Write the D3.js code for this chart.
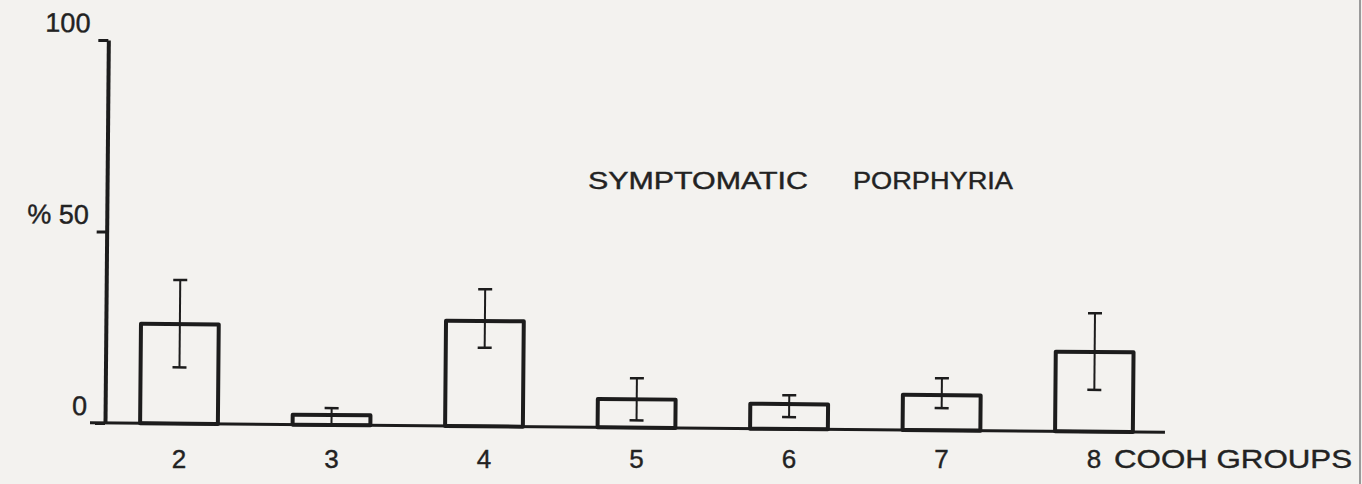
<!DOCTYPE html>
<meta charset="utf-8">
<style>
body {
    margin: 0;
    background-color: #f3f2ef;
}

svg {
    display: block;
    font-family: "Liberation Sans", "DejaVu Sans", sans-serif;
}

.bar {
    fill: none;
    stroke: #1c1c1c;
    stroke-width: 4;
    stroke-linejoin: round;
}

.err {
    stroke: #1c1c1c;
    stroke-width: 2;
}

.label {
    fill: #222;
    font-size: 26px;
    stroke: #222;
    stroke-width: 0.4px;
}
</style>
<body>
  <script src="https://d3js.org/d3.v7.min.js"></script>
  <script>
    var width = 1362,
        height = 484;

    // COOH groups, % with symptomatic porphyria, and error bar ends
    var groups = ["2", "3", "4", "5", "6", "7", "8"];
    var means = [26, 2.6, 27.5, 7.4, 6.5, 9.2, 20.8];
    var errLow = [14.7, 0, 20.5, 1.9, 3.1, 5.8, 10.9];
    var errHigh = [37.5, 4.4, 35.8, 12.9, 8.8, 13.6, 30.9];
    var yTicks = [0, 50, 100];
    var yTickLabels = ["0", "% 50", "100"];

    var data = groups.map(function(g, i) {
        return {group: g, mean: means[i], lo: errLow[i], hi: errHigh[i]};
    });

    var x = d3.scalePoint()
        .domain(groups)
        .range([179, 1094]);
    var y = d3.scaleLinear()
        .domain([0, 100])
        .range([423, 40]);
    var barWidth = x.step() * 0.51;

    var svg = d3.select("body").append("svg")
        .attr("width", width)
        .attr("height", height);

    svg.append("rect")
        .attr("width", width)
        .attr("height", height)
        .attr("fill", "#f3f2ef");

    // the scanned figure sits a little askew
    var g = svg.append("g")
        .attr("transform", "rotate(0.5, 105, 423)");

    var yAxis = g.append("g")
        .attr("transform", "translate(105,0)")
        .call(d3.axisLeft(y)
            .tickValues(yTicks)
            .tickSize(10)
            .tickSizeOuter(0)
            .tickPadding(8)
            .tickFormat(function(d, i) { return yTickLabels[i]; }));
    yAxis.select(".domain")
        .attr("stroke", "#1c1c1c")
        .attr("stroke-width", 4);
    yAxis.selectAll(".tick line")
        .attr("stroke", "#1c1c1c")
        .attr("stroke-width", 3);
    yAxis.selectAll(".tick text")
        .attr("class", "label")
        .attr("dy", "-0.3em")
        .style("font-size", "27px")
        .style("font-family", "'Liberation Sans', sans-serif");

    // baseline
    g.append("line")
        .attr("x1", 90)
        .attr("x2", 1165)
        .attr("y1", y(0))
        .attr("y2", y(0))
        .attr("stroke", "#1c1c1c")
        .attr("stroke-width", 3);

    g.selectAll(".bar")
        .data(data)
        .enter()
        .append("rect")
        .attr("class", "bar")
        .attr("x", function(d) { return x(d.group) - barWidth / 2; })
        .attr("y", function(d) { return y(d.mean); })
        .attr("width", barWidth)
        .attr("height", function(d) { return y(0) - y(d.mean); });

    var err = g.selectAll(".errbar")
        .data(data)
        .enter()
        .append("g")
        .attr("class", "err");
    err.append("line")
        .attr("x1", function(d) { return x(d.group); })
        .attr("x2", function(d) { return x(d.group); })
        .attr("y1", function(d) { return y(d.lo); })
        .attr("y2", function(d) { return y(d.hi); });
    err.append("line")
        .attr("x1", function(d) { return x(d.group) - 7; })
        .attr("x2", function(d) { return x(d.group) + 7; })
        .attr("y1", function(d) { return y(d.hi); })
        .attr("y2", function(d) { return y(d.hi); })
        .attr("stroke-width", 2.5);
    err.filter(function(d) { return d.lo > 0; })
        .append("line")
        .attr("x1", function(d) { return x(d.group) - 7; })
        .attr("x2", function(d) { return x(d.group) + 7; })
        .attr("y1", function(d) { return y(d.lo); })
        .attr("y2", function(d) { return y(d.lo); })
        .attr("stroke-width", 2.5);

    // group labels under the axis
    svg.selectAll(".grp")
        .data(groups)
        .enter()
        .append("text")
        .attr("class", "label")
        .attr("x", function(d) { return x(d); })
        .attr("y", 468)
        .attr("text-anchor", "middle")
        .text(function(d) { return d; });

    svg.append("text")
        .attr("class", "label")
        .attr("x", 1114)
        .attr("y", 468)
        .attr("textLength", 238)
        .attr("lengthAdjust", "spacingAndGlyphs")
        .text("COOH GROUPS");

    svg.append("text")
        .attr("class", "label")
        .attr("x", 588)
        .attr("y", 189)
        .attr("textLength", 220)
        .attr("lengthAdjust", "spacingAndGlyphs")
        .style("font-size", "23px")
        .text("SYMPTOMATIC");

    svg.append("text")
        .attr("class", "label")
        .attr("x", 853)
        .attr("y", 189)
        .attr("textLength", 160)
        .attr("lengthAdjust", "spacingAndGlyphs")
        .style("font-size", "23px")
        .text("PORPHYRIA");

    // edge of the scanned page
    svg.append("line")
        .attr("x1", 1360)
        .attr("x2", 1360)
        .attr("y1", 0)
        .attr("y2", height)
        .attr("stroke", "#9a9a9a")
        .attr("stroke-width", 2);
  </script>
</body>
